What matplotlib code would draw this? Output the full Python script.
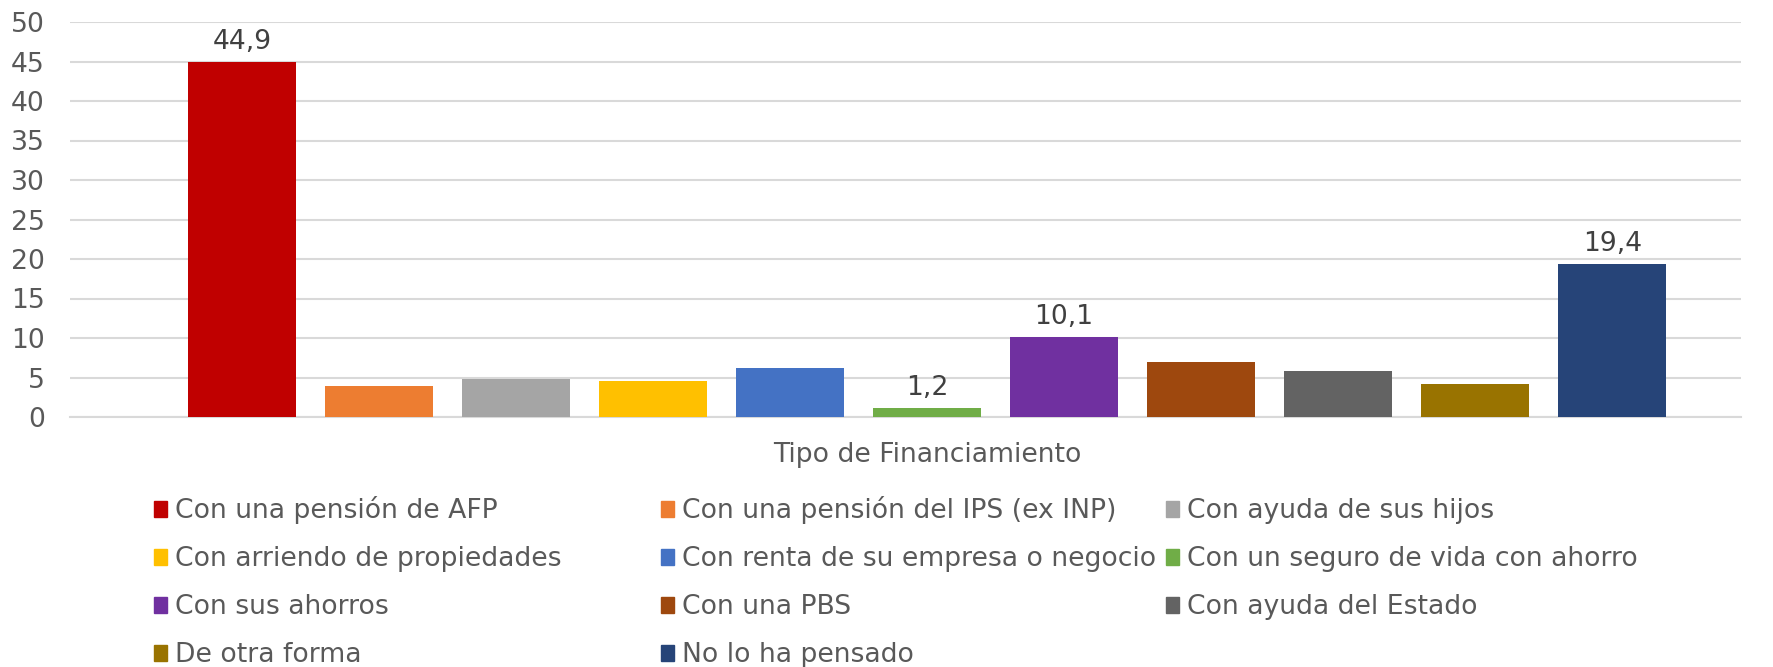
import matplotlib
matplotlib.use("Agg")
import matplotlib.pyplot as plt
from matplotlib.patches import Rectangle

categories = [
    "Con una pensión de AFP",
    "Con una pensión del IPS (ex INP)",
    "Con ayuda de sus hijos",
    "Con arriendo de propiedades",
    "Con renta de su empresa o negocio",
    "Con un seguro de vida con ahorro",
    "Con sus ahorros",
    "Con una PBS",
    "Con ayuda del Estado",
    "De otra forma",
    "No lo ha pensado",
]
values = [44.9, 3.9, 4.8, 4.6, 6.2, 1.2, 10.1, 7.0, 5.8, 4.2, 19.4]
labelled = [True, False, False, False, False, True, True, False, False, False, True]
colors = ["#C00000", "#ED7D31", "#A5A5A5", "#FFC000", "#4472C4", "#70AD47",
          "#7030A0", "#9E480E", "#636363", "#997300", "#264478"]
yticks = [0, 5, 10, 15, 20, 25, 30, 35, 40, 45, 50]
axis_title = "Tipo de Financiamiento"

plt.rcParams['font.family'] = ['DejaVu Sans']
W, H = 1773, 667
fig = plt.figure(figsize=(W / 100, H / 100), dpi=100)
fs = 19.2

# main axes in pixel layout
left, right, top, bottom = 70, 1741, 22, 417
ax = fig.add_axes([left / W, 1 - bottom / H, (right - left) / W, (bottom - top) / H])
x = list(range(len(values)))
ax.bar(x, values, width=0.79, color=colors, zorder=3)
ax.set_xlim(-1.255, 10.94)
ax.set_ylim(0, 50)
ax.set_yticks(yticks)
ax.set_yticklabels([str(t) for t in yticks], fontsize=fs, color="#595959")
ax.tick_params(axis='y', length=0, pad=18)
ax.set_xticks([])
ax.grid(axis='y', color="#D9D9D9", linewidth=1.5, zorder=0)
for s in ['top', 'right', 'left']:
    ax.spines[s].set_visible(False)
ax.spines['bottom'].set_color("#D9D9D9")
ax.spines['bottom'].set_linewidth(1.5)

for xi, v, lab in zip(x, values, labelled):
    if lab:
        ax.annotate(f"{v:.1f}".replace('.', ','), (xi, v), xytext=(0, 5),
                    textcoords='offset points', ha='center', va='bottom',
                    fontsize=fs, color="#404040")

# overlay for title and legend in pixel coordinates
ov = fig.add_axes([0, 0, 1, 1], facecolor='none')
ov.set_xlim(0, W)
ov.set_ylim(H, 0)
ov.axis('off')

ov.text(927, 462, axis_title, ha='center', va='baseline', fontsize=fs, color="#595959")

col_x = [154, 661, 1166]
row_y = [507.5, 555.5, 603.5, 651.5]
for i, (name, c) in enumerate(zip(categories, colors)):
    r, cidx = divmod(i, 3)
    mx, my = col_x[cidx], row_y[r]
    ov.add_patch(Rectangle((mx, my - 7), 13, 16, color=c))
    ov.text(mx + 21, my, name, ha='left', va='center_baseline', fontsize=fs, color="#595959")

fig.savefig("out.png", dpi=100)
